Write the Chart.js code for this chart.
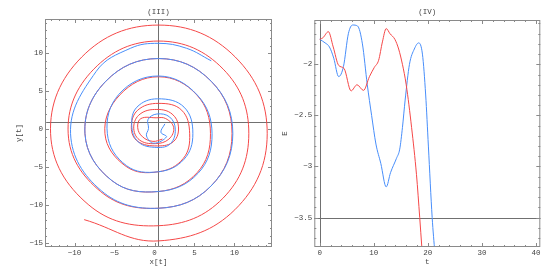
<!DOCTYPE html>
<html>
<head>
<meta charset="utf-8">
<script src="https://cdn.jsdelivr.net/npm/chart.js@4.4.1/dist/chart.umd.min.js"></script>
<style>
  html, body { margin: 0; padding: 0; background: #fff; }
  #wrap { position: relative; width: 554px; height: 274px; }
  .box { position: absolute; top: 0; width: 277px; height: 274px; }
</style>
</head>
<body>
<div id="wrap">
  <div class="box" style="left:0"><canvas id="c3"></canvas></div>
  <div class="box" style="left:277px"><canvas id="c4"></canvas></div>
</div>
<script>
// (III) orbit x[t], y[t], outer end first, every ~45 degrees
const redX  = [-8.8, 0.5, 10.05, 14.1, 10.1, 0.5, -9.1, -13.0, -8.3,
               0.5, 8.55, 11.8, 8.6, 0.5, -7.6, -10.8, -6.75,
               0.5, 7.05, 9.7, 7.1, 0.5, -6.1, -8.7, -5.35,
               0.5, 5.35, 7.0, 5.3, 0.5, -4.35, -6.2, -3.55,
               0.5, 3.6, 4.4, 3.4, 0.5, -2.1, -2.9, -2.1,
               0.4, 2.4, 3.0, 2.2, 0.3, -1.8, -2.6, -1.9,
               0.1, 1.8, 2.4, 1.4, 0.2, -1.7, -2.1, -1.5, -0.2, 1.0];
const redY  = [-11.9, -14.7, -10.6, -0.6, 9.5, 13.7, 9.5, -0.6, -9.9,
               -12.7, -9.1, -0.6, 7.9, 11.6, 7.9, -0.6, -8.2,
               -10.4, -7.5, -0.6, 6.3, 9.3, 6.3, -0.6, -6.75,
               -8.2, -5.7, -0.6, 4.5, 6.9, 4.5, -0.6, -4.9,
               -5.6, -3.85, -0.6, 2.5, 3.4, 2.5, 0.2, -1.6,
               -2.2, -1.6, 0.3, 2.0, 2.6, 2.0, 0.3, -1.4,
               -1.9, -1.3, 0.2, 1.4, 1.5, 1.4, 0.2, -1.0, -1.6, -1.3];
const blueX = [7.1, 4.0, 0.5, -3.0, -7.3, -10.5, -6.65,
               0.5, 7.05, 9.8, 7.1, 0.5, -6.1, -8.7, -5.35,
               0.5, 5.45, 7.2, 5.35, 0.5, -4.45, -5.9, -3.5,
               0.5, 3.7, 4.8, 3.7, 0.4, -2.2, -2.85, -2.0,
               0.3, 2.0, 2.6, 1.9, 0.3, -0.8, -0.75, -1.0, -0.1, 1.5, 0.8, 1.3];
const blueY = [9.0, 10.65, 11.3, 10.65, 7.6, -0.6, -8.1,
               -10.4, -7.5, -0.6, 6.3, 9.3, 6.3, -0.6, -6.75,
               -8.2, -5.8, -0.6, 4.5, 7.0, 4.6, -0.6, -4.8,
               -5.6, -3.95, -0.6, 2.9, 4.0, 2.9, 0.5, -1.7,
               -2.4, -1.9, 0.0, 1.6, 2.0, 1.3, 0.1, -0.9, -1.85, -1.0, -0.4, 0.7];

// (IV) energy E vs t
const tRed  = [0, 0.6, 1.6, 2.5, 3.5, 4.5, 5.8, 6.9, 8.1, 9.2, 10.1, 10.9, 11.6, 12.3, 13.0, 13.9, 14.6, 15.3, 16.0, 17.0, 17.9, 18.5, 18.9, 19.1];
const eRed  = [-1.755, -1.74, -1.68, -1.83, -2.01, -2.04, -2.26, -2.20, -2.255, -2.12, -2.03, -1.96, -1.78, -1.65, -1.70, -1.755, -1.85, -2.0, -2.2, -2.62, -3.08, -3.5, -3.8, -3.95];
const tBlue = [0, 1.0, 1.8, 2.6, 3.5, 4.4, 5.3, 6.1, 7.0, 7.9, 8.8, 9.6, 10.4, 11.3, 12.3, 13.1, 14.2, 14.8, 15.3, 15.8, 16.6, 17.5, 18.3, 19.0, 19.6, 20.1, 20.8, 21.3, 21.5];
const eBlue = [-1.755, -1.79, -1.83, -1.94, -2.12, -2.02, -1.70, -1.615, -1.625, -1.80, -2.2, -2.5, -2.78, -2.97, -3.2, -3.06, -2.92, -2.83, -2.62, -2.35, -2.0, -1.85, -1.79, -1.90, -2.3, -2.8, -3.5, -3.85, -4.0];

// ticks
const xTicks3 = [-10, -5, 0, 5, 10];
const yTicks3 = [-15, -10, -5, 0, 5, 10];
const tTicks  = [0, 10, 20, 30, 40];
const eTicks  = [-3.5, -3, -2.5, -2];

const RED = 'rgb(245, 72, 72)';
const BLUE = 'rgb(72, 142, 250)';
const FONT = { family: 'Liberation Mono', size: 7.5 };
const TXT = '#444';

const pts = (xs, ys) => xs.map((v, i) => ({ x: v, y: ys[i] }));
const fmt = v => (v < 0 ? '\u2212' + Math.abs(v) : String(v));

// frame with inward ticks, axis lines and the panel label
function makeFrame(title, origin, minor) {
  return {
    id: 'frame',
    beforeDatasetsDraw(chart) {
      const { ctx, chartArea: a, scales: { x, y } } = chart;
      ctx.save();
      ctx.strokeStyle = '#707070';
      ctx.lineWidth = 1;
      const ox = Math.round(x.getPixelForValue(origin.x)) + 0.5;
      const oy = Math.round(y.getPixelForValue(origin.y)) + 0.5;
      ctx.beginPath();
      ctx.moveTo(ox, a.top); ctx.lineTo(ox, a.bottom);
      ctx.moveTo(a.left, oy); ctx.lineTo(a.right, oy);
      ctx.stroke();
      ctx.restore();
    },
    afterDraw(chart) {
      const { ctx, chartArea: a, scales: { x, y } } = chart;
      ctx.save();
      ctx.strokeStyle = '#8a8a8a';
      ctx.lineWidth = 1;
      ctx.strokeRect(a.left + 0.5, a.top + 0.5, a.right - a.left - 1, a.bottom - a.top - 1);
      ctx.beginPath();
      const tickX = (v, len) => {
        const p = Math.round(x.getPixelForValue(v)) + 0.5;
        if (p < a.left || p > a.right) return;
        ctx.moveTo(p, a.bottom); ctx.lineTo(p, a.bottom - len);
        ctx.moveTo(p, a.top); ctx.lineTo(p, a.top + len);
      };
      const tickY = (v, len) => {
        const p = Math.round(y.getPixelForValue(v)) + 0.5;
        if (p < a.top || p > a.bottom) return;
        ctx.moveTo(a.left, p); ctx.lineTo(a.left + len, p);
        ctx.moveTo(a.right, p); ctx.lineTo(a.right - len, p);
      };
      for (let i = Math.ceil(x.min / minor.x); i * minor.x <= x.max; i++) tickX(i * minor.x, 2);
      for (let i = Math.ceil(y.min / minor.y); i * minor.y <= y.max; i++) tickY(i * minor.y, 2);
      x.ticks.forEach(t => tickX(t.value, 4));
      y.ticks.forEach(t => tickY(t.value, 4));
      ctx.stroke();
      ctx.fillStyle = TXT;
      ctx.font = FONT.size + 'px ' + FONT.family;
      ctx.textAlign = 'center';
      ctx.textBaseline = 'middle';
      ctx.fillText(title, (a.left + a.right) / 2, 12);
      ctx.restore();
    }
  };
}

function axis(min, max, ticks, title, fit, titlePad) {
  return {
    type: 'linear',
    min: min,
    max: max,
    afterBuildTicks: s => { s.ticks = ticks.map(v => ({ value: v })); },
    afterFit: fit,
    grid: { display: false, drawTicks: false },
    border: { display: false },
    ticks: { autoSkip: false, maxRotation: 0, color: TXT, font: FONT, padding: 2, callback: v => fmt(v) },
    title: { display: true, text: title, color: TXT, font: FONT, padding: titlePad }
  };
}

new Chart(document.getElementById('c3'), {
  type: 'scatter',
  data: {
    datasets: [
      { data: pts(blueX, blueY), borderColor: BLUE },
      { data: pts(redX, redY), borderColor: RED }
    ]
  },
  options: {
    responsive: true,
    maintainAspectRatio: false,
    animation: false,
    showLine: true,
    layout: { padding: { top: 19, right: 5, left: 0, bottom: 0 } },
    elements: {
      point: { radius: 0, hoverRadius: 0 },
      line: { borderWidth: 1, tension: 0.4, fill: false }
    },
    plugins: { legend: { display: false }, tooltip: { enabled: false } },
    scales: {
      x: axis(-13.7, 14.7, xTicks3, 'x[t]', s => { s.height = 27; }, { top: 0, bottom: 7.5 }),
      y: axis(-15.5, 14.5, yTicks3, 'y[t]', s => { s.width = 45; }, { top: 15, bottom: 0 })
    }
  },
  plugins: [makeFrame('(III)', { x: 0.4, y: 0.95 }, { x: 1, y: 1 })]
});

new Chart(document.getElementById('c4'), {
  type: 'line',
  data: {
    datasets: [
      { data: pts(tRed, eRed), borderColor: RED },
      { data: pts(tBlue, eBlue), borderColor: BLUE }
    ]
  },
  options: {
    responsive: true,
    maintainAspectRatio: false,
    animation: false,
    layout: { padding: { top: 20, right: 13.7, left: 0, bottom: 0 } },
    elements: {
      point: { radius: 0, hoverRadius: 0 },
      line: { borderWidth: 1, cubicInterpolationMode: 'monotone', fill: false }
    },
    plugins: { legend: { display: false }, tooltip: { enabled: false } },
    scales: {
      x: axis(-1, 40.8, tTicks, 't', s => { s.height = 27; }, { top: 0, bottom: 7.5 }),
      y: axis(-3.788, -1.566, eTicks, 'E', s => { s.width = 37.3; }, { top: 4, bottom: 0 })
    }
  },
  plugins: [makeFrame('(IV)', { x: 0, y: -3.5 }, { x: 2, y: 0.1 })]
});
</script>
</body>
</html>
